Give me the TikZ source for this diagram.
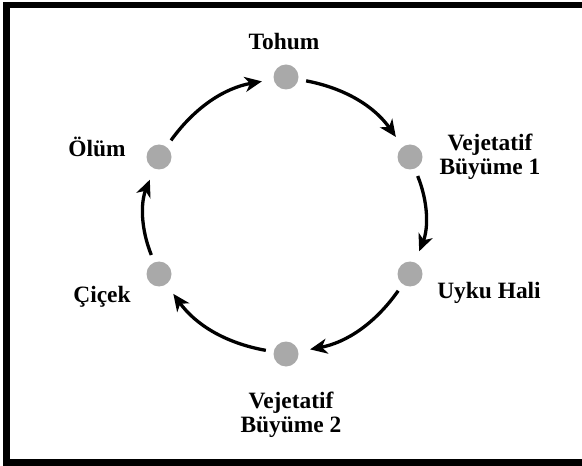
\documentclass[tikz,border=0pt]{standalone}
\usepackage{fontspec}
\setmainfont{Liberation Serif}
\usetikzlibrary{arrows.meta}

\definecolor{dotgray}{HTML}{A9A9A9}

\begin{document}
\begin{tikzpicture}[x=1bp,y=-1bp,
    dot/.style={circle,fill=dotgray,minimum size=25bp,inner sep=0pt,outer sep=0pt},
    lbl/.style={font=\fontsize{23.5}{24}\selectfont\bfseries,align=center,inner sep=0pt},
    arr/.style={line width=3.3bp,-{Stealth[length=17bp,width=15bp,inset=5bp]},shorten <=8bp,shorten >=12bp}]
      \useasboundingbox (0,0) rectangle (582,466);
      \draw[line width=6.5bp] (582,5) -- (6.5,5) -- (6.5,462.5) -- (582,462.5);
      \node[dot] (tohum) at (286,77) {};
      \node[dot] (veg1) at (410,157) {};
      \node[dot] (uyku) at (410,274) {};
      \node[dot] (veg2) at (286,354) {};
      \node[dot] (cicek) at (159,274) {};
      \node[dot] (olum) at (159,157) {};
      \node[lbl] (ltohum) at (284,42) {Tohum};
      \node[lbl] (lveg1) at (490,157) {Vejetatif\\Büyüme 1};
      \node[lbl] (luyku) at (489,293) {Uyku Hali};
      \node[lbl] (lveg2) at (291,415) {Vejetatif\\Büyüme 2};
      \node[lbl] (lcicek) at (102,297) {Çiçek};
      \node[lbl] (lolum) at (97,147) {Ölüm};
      \draw[arr] (tohum) to[bend left=22] (veg1);
      \draw[arr] (veg1) to[bend left=22] (uyku);
      \draw[arr] (uyku) to[bend left=22] (veg2);
      \draw[arr] (veg2) to[bend left=22] (cicek);
      \draw[arr] (cicek) to[bend left=22] (olum);
      \draw[arr] (olum) to[bend left=22] (tohum);
    \end{tikzpicture}
\end{document}
